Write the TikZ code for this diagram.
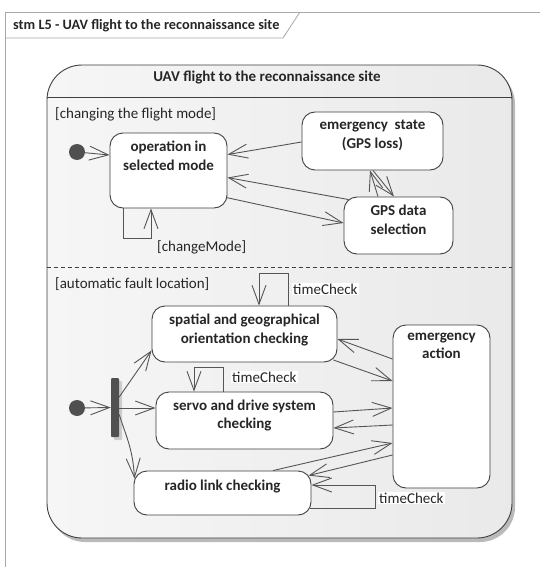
\documentclass[tikz,border=0pt]{standalone}
\usepackage{fontspec}
\setmainfont{Carlito}
\usetikzlibrary{arrows.meta,calc,shadows}
\definecolor{boxline}{HTML}{404040}
\definecolor{arrline}{HTML}{555555}
\definecolor{frameline}{HTML}{A8A8A8}
\definecolor{dotfill}{HTML}{505050}
\definecolor{txt}{HTML}{262626}
\begin{document}
\begin{tikzpicture}[x=1pt,y=-1pt,
  statebox/.style={draw=boxline, fill=white, line width=0.9pt, rounded corners=13pt, inner sep=0pt},
  stext/.style={font=\fontsize{15}{18.5}\selectfont\bfseries, align=center, anchor=north, inner sep=0pt, text=txt},
  lbl/.style={font=\fontsize{15}{18}\selectfont, anchor=west, inner sep=1pt, text=txt},
  tlbl/.style={lbl, fill=white},
  tr/.style={draw=arrline, line width=0.9pt, -{Straight Barb[length=19pt,width=14pt,line width=0.9pt]}},
  initdot/.style={circle, fill=dotfill, minimum size=16pt, inner sep=0pt},
]
\useasboundingbox (0,0) rectangle (540,567);
\fill[white] (0,0) rectangle (540,567);

% diagram frame
\draw[frameline, line width=0.8pt] (540,12) -- (5,12) -- (5,567);
\draw[frameline, line width=0.8pt] (5,38) -- (283,38) -- (300,12);
\node[anchor=west, font=\fontsize{14.3}{17}\selectfont\bfseries, inner sep=0pt, text=txt] (frametitle) at (13,26) {stm L5 - UAV flight to the reconnaissance site};

% composite state
\node[draw=boxline, line width=0.9pt, rounded corners=35pt, minimum width=465pt, minimum height=473pt,
      left color=gray!7, right color=gray!17,
      drop shadow={shadow xshift=3pt, shadow yshift=-4pt, fill=black!45, opacity=.6}] (uav) at (279.5,301.5) {};
\node[font=\fontsize{15}{18}\selectfont\bfseries, inner sep=0pt, text=txt] (uavt) at (267,78) {UAV flight to the reconnaissance site};
\draw[boxline, line width=0.9pt] (uav.west |- 0,97) -- (uav.east |- 0,97);
\draw[boxline, line width=0.8pt, dash pattern=on 4pt off 3pt] (uav.west |- 0,267) -- (uav.east |- 0,267);

\node[lbl] (reg1) at (54,114) {[changing the flight mode]};
\node[lbl] (reg2) at (54,284) {[automatic fault location]};

% region 1
\node[initdot] (i1) at (77,152) {};
\node[statebox, minimum width=117pt, minimum height=75pt] (op) at (168.5,170.5) {};
\node[stext] (opt) at ($(op.north)+(0,8.5)$) {operation in\\selected mode};
\node[statebox, minimum width=141pt, minimum height=58pt] (es) at (372.5,141) {};
\node[stext] (est) at ($(es.north)+(0,8.5)$) {emergency\ \ state\\(GPS loss)};
\node[statebox, minimum width=109pt, minimum height=57pt] (gps) at (398.5,225.5) {};
\node[stext] (gpst) at ($(gps.north)+(0,8.5)$) {GPS data\\selection};

\draw[tr] (i1) -- ($(op.west)+(0,-15.5)$);
\draw[tr] ($(es.west)+(0,1)$) -- ($(op.north east)+(0,22)$);
\draw[tr] ($(gps.north west)+(5,3)$) -- ($(op.north east)+(0,45)$);
\draw[tr] ($(op.north east)+(-1,65)$) -- ($(gps.west)+(0,-2.5)$);
\draw[tr] ($(gps.north)+(-20.5,0)$) -- ($(es.south)+(-2.5,0)$);
\draw[tr] ($(es.south)+(0.5,0)$) -- ($(gps.north)+(-4.5,0)$);
\draw[tr] ($(op.south)+(-45.5,0)$) -- ++(0,30) -| ($(op.south)+(-17.5,0)$);
\node[lbl] (cm) at (156,247) {[changeMode]};

% region 2
\node[initdot] (i2) at (77,408) {};
\node[fill=dotfill, minimum width=8pt, minimum height=59pt, inner sep=0pt, rounded corners=1pt,
      drop shadow={shadow xshift=3pt, shadow yshift=-3pt, fill=black!30, opacity=.6}] (fork) at (115,407.5) {};
\node[statebox, minimum width=185pt, minimum height=56pt] (sp) at (244.5,334) {};
\node[stext] (spt) at ($(sp.north)+(0,8.5)$) {spatial and geographical\\orientation checking};
\node[statebox, minimum width=97pt, minimum height=163pt] (ea) at (441.5,406.5) {};
\node[stext] (eat) at ($(ea.north)+(0,8)$) {emergency\\action};
\node[statebox, minimum width=177pt, minimum height=57pt] (sv) at (244.5,420.5) {};
\node[stext] (svt) at ($(sv.north)+(0,8)$) {servo and drive system\\checking};
\node[statebox, minimum width=177pt, minimum height=44pt] (ra) at (222.5,493) {};
\node[stext] (rat) at ($(ra.north)+(0,9)$) {radio link checking};

\draw[tr] (i2) -- (fork.west);
\draw[tr] ($(fork.east)+(0,-10.5)$) -- ($(sp.south west)+(0,-12)$);
\draw[tr] ($(fork.east)+(0,0.5)$) -- ($(sv.west)+(0,-12.5)$);
\draw[tr] ($(fork.east)+(0,7)$) .. controls +(8,25) and +(-2,-30) .. ($(ra.north west)+(1,8)$);

\draw[tr] ($(sp.north)+(43.5,0)$) -- ++(0,-32) -| ($(sp.north)+(14.5,0)$);
\node[tlbl] (tc1) at (292,289) {timeCheck};
\draw[tr] ($(sv.north)+(-21.5,0)$) -- ++(0,-24) -| ($(sv.north)+(-50.5,0)$);
\node[tlbl] (tc2) at (231,377) {timeCheck};
\draw[tr] ($(ra.east)+(-1,15)$) -- ++(65,0) |- ($(ra.east)+(0,-8)$);
\node[tlbl] (tc3) at (378,498) {timeCheck};

\draw[tr] ($(ea.west)+(0,-47.5)$) -- ($(sp.east)+(0,5)$);
\draw[tr] ($(sp.east)+(-4,26)$) -- ($(ea.west)+(0,-25.5)$);
\draw[tr] ($(sv.east)+(0,-8.5)$) -- ($(ea.west)+(0,1.5)$);
\draw[tr] ($(ea.west)+(0,18.5)$) -- ($(sv.east)+(0,7.5)$);
\draw[tr] ($(ra.north)+(50.5,0)$) -- ($(ea.west)+(0,36.5)$);
\draw[tr] ($(ea.west)+(0,48.5)$) -- ($(ra.north east)+(-3,5)$);
\end{tikzpicture}
\end{document}
